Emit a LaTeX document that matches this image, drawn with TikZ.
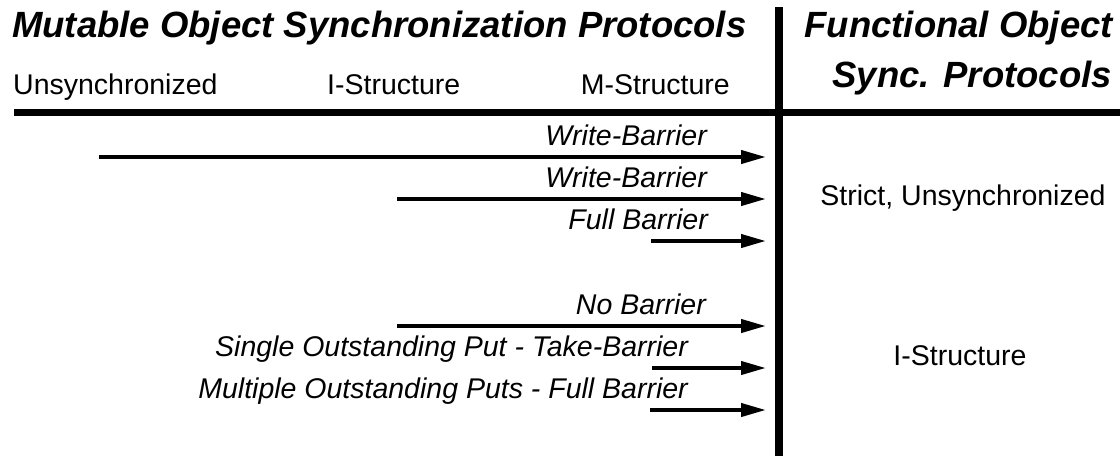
\documentclass[tikz,border=0pt]{standalone}
\usepackage{fontspec}
\setmainfont{Liberation Sans}
\usetikzlibrary{arrows.meta}
\begin{document}
\begin{tikzpicture}[x=1pt,y=-1pt,
    hdr/.style={font=\fontsize{36.5}{40}\selectfont\bfseries\itshape,inner sep=0pt},
    txt/.style={font=\fontsize{28.5}{32}\selectfont,inner sep=0pt},
    lbl/.style={font=\fontsize{28.5}{32}\selectfont\itshape,inner sep=0pt,anchor=base east},
    arr/.style={line width=4pt,-{Triangle[length=25pt,width=13pt]}}]
  \useasboundingbox (0,0) rectangle (1120,456);
  % headings
  \node[hdr,anchor=base west] (mut) at (12,37) {Mutable Object Synchronization Protocols};
  \node[hdr,anchor=base east] (fun) at (1113,37) {Functional Object};
  \node[hdr,anchor=base east] (syn) at (1112,87) {Sync. Protocols};
  \node[txt,anchor=base west] (uns) at (13,94) {Unsynchronized};
  \node[txt,anchor=base west] (ist) at (327,94) {I-Structure};
  \node[txt,anchor=base east] (mst) at (730,94) {M-Structure};
  % dividers
  \draw[line width=7.5pt] (14,112.5) -- (1120,112.5);
  \draw[line width=7.5pt] (779,7) -- (779,456);
  % protocol arrows
  \foreach \y/\xs/\xl/\t [count=\i] in {157/99/707/Write-Barrier,
      199/397/707/Write-Barrier, 241/651/708/Full Barrier,
      326/397/706/No Barrier, 368/652/688/Single Outstanding Put - Take-Barrier,
      410/650/688/Multiple Outstanding Puts - Full Barrier} {
    \coordinate (s\i) at (\xs,\y);
    \coordinate (e\i) at (766,\y);
    \draw[arr] (s\i) -- (e\i);
    \node[lbl] (l\i) at (\xl,\y-12) {\t};
  }
  % functional side
  \node[txt,anchor=base] (fstr) at (963,205) {Strict, Unsynchronized};
  \node[txt,anchor=base] (fist) at (960,365) {I-Structure};
\end{tikzpicture}
\end{document}
